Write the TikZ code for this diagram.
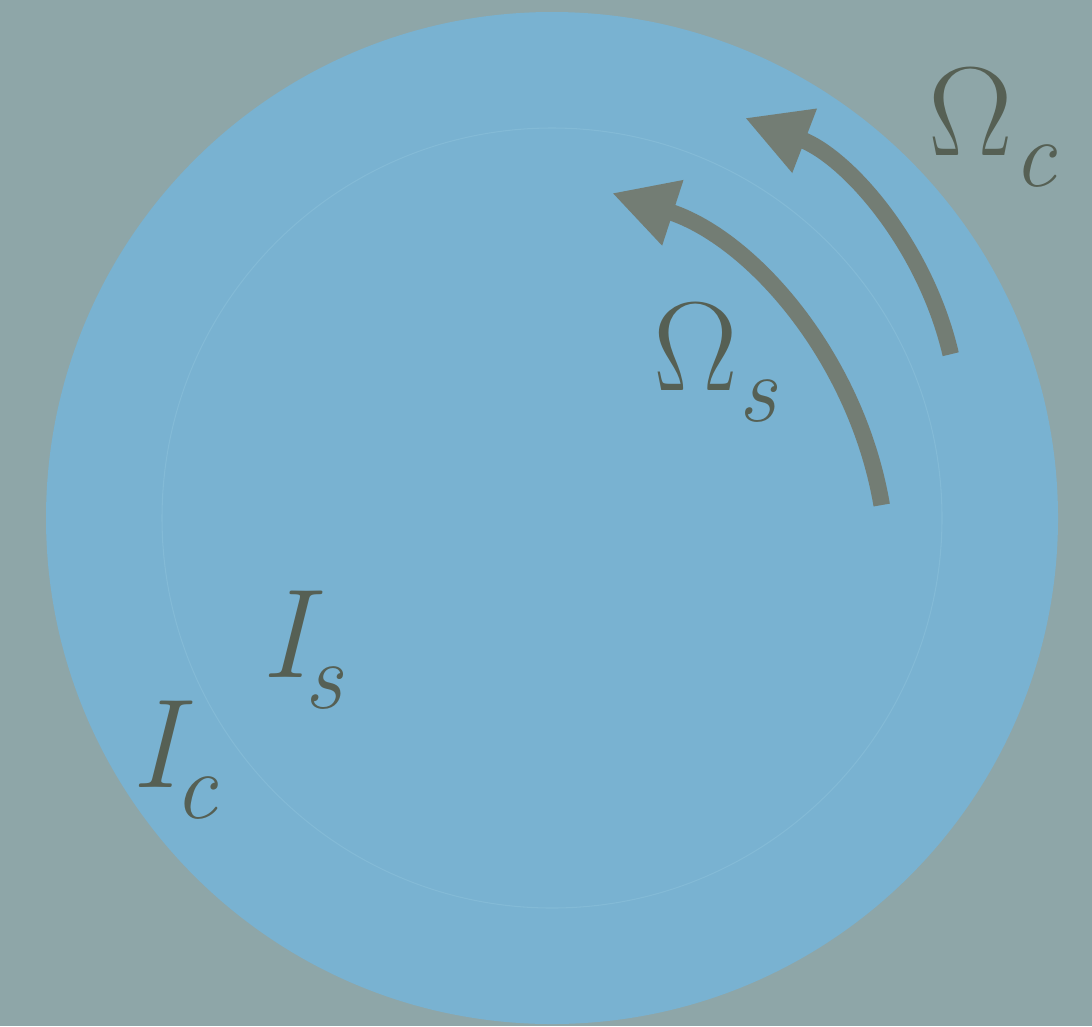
\documentclass[tikz,border=0pt]{standalone}
\usepackage{fontspec}
\setmainfont{Latin Modern Roman}
\usepackage{tikz}
\usetikzlibrary{arrows.meta}

\definecolor{bgcol}{RGB}{142,166,168}
\definecolor{diskcol}{RGB}{121,178,209}
\definecolor{ringcol}{RGB}{131,186,214}
\definecolor{arrowcol}{RGB}{115,125,116}
\definecolor{labelcol}{RGB}{86,96,84}

% symbol with a dropped italic index
\newcommand{\symlab}[2]{#1\raisebox{-9pt}{\fontsize{27}{27}\selectfont\itshape #2}}

\begin{document}
\begin{tikzpicture}[x=0.01cm, y=0.01cm, every node/.style={inner sep=0pt, text=labelcol, font=\fontsize{36}{40}\selectfont},
    spin/.style={draw=arrowcol, line width=0.165cm, -{Triangle[length=0.64cm, width=0.64cm]}}]
        \fill[bgcol] (0,0) rectangle (1092,1026);
        \useasboundingbox (0,0) rectangle (1092,1026);
        \coordinate (ctr) at (552,508);
        % shell and core
        \fill[diskcol] (ctr) circle (506);
        \draw[ringcol, line width=0.3pt] (ctr) circle (390);
        % rotation arrows
        \coordinate (spins) at (488.7,453.8);
        \coordinate (spinc) at (625,596);
        \draw[spin] (spins) ++(9.7:398.7) arc (9.7:72:398.7);
        \draw[spin] (spinc) ++(13.1:334.4) arc (13.1:69:334.4);
        % labels
        \node (omegac) [anchor=base west] at (928,871) {\symlab{Ω}{c}};
        \node (omegas) [anchor=base west] at (653,636) {\symlab{Ω}{s}};
        \node (is) [anchor=base west] at (261,349) {\symlab{\itshape I\kern-1.5pt}{s}};
        \node (ic) [anchor=base west] at (131,239) {\symlab{\itshape I\kern-1.5pt}{c}};
    \end{tikzpicture}
\end{document}
